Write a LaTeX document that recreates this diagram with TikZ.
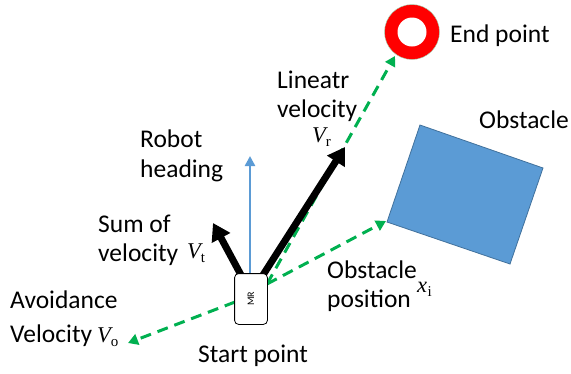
\documentclass[tikz,border=0pt]{standalone}
\usepackage{fontspec}
\setmainfont{Carlito}
\newfontfamily\serifv{Liberation Serif}
\usetikzlibrary{arrows.meta}
\definecolor{gdash}{HTML}{00B050}
\definecolor{bluea}{HTML}{5B9BD5}
\definecolor{blueb}{HTML}{41719C}
\newcommand{\subv}[1]{\raisebox{-4pt}{\serifv\upshape\fontsize{15}{15}\selectfont #1}}
\tikzset{
  lbl/.style={font=\fontsize{25.5}{28}\selectfont, inner sep=0pt, anchor=base west},
  var/.style={font=\serifv\fontsize{22.5}{24}\selectfont\itshape, inner sep=0pt, anchor=base west},
  greenarrow/.style={draw=gdash, line width=3pt, dash pattern=on 11pt off 7pt, -{Triangle[length=10pt,width=11pt]}},
  blackarrow/.style={draw=black, line width=7pt, -{Triangle[length=17pt,width=20pt]}},
  bluearrow/.style={draw=bluea, line width=2.4pt, -{Triangle[length=10pt,width=10pt]}},
  robot/.style={draw=black, fill=white, rounded corners=4pt, line width=0.8pt},
}
\begin{document}
\begin{tikzpicture}[x=1pt,y=-1pt]
\useasboundingbox (0,0) rectangle (571,373);
% obstacle
\draw[fill=bluea, draw=blueb, line width=0.8pt] (420,125) -- (543,168) -- (510,264) -- (387,222) -- cycle;
\coordinate (obsc) at (386,221);
% end point ring
\node[circle, minimum size=55pt, inner sep=0pt, fill=red, draw=gdash!40, line width=0.4pt] (endpt) at (412,32) {};
\fill[white] (endpt.center) circle (14.5);
\coordinate (endtip) at (395,56);
% robot
\node[robot, minimum width=32pt, minimum height=50pt, inner sep=0pt] (mr) at (251,299) {};
\coordinate (vttip) at (213,223);
\coordinate (vrtip) at (345,147);
\coordinate (headtip) at (250,156);
\coordinate (votip) at (128,343);
% green dashed
\draw[greenarrow] (267,284) -- (endtip);
\draw[greenarrow] (267,284) -- (obsc);
\draw[greenarrow] (235,302) -- (votip);
% blue heading
\draw[bluearrow] (250,274) -- (headtip);
% black arrows
\draw[blackarrow] (241,275) -- (vttip);
\draw[blackarrow] (263,275) -- (vrtip);
\draw[robot] (mr.south west) rectangle (mr.north east);
\node[rotate=90, font=\fontsize{10}{11}\selectfont, inner sep=0pt] (mrtxt) at (mr.center) {MR};
% labels
\node[lbl] (endlbl) at (450,42) {End point};
\node[lbl] (obslbl) at (479,128) {Obstacle};
\node[lbl] (linlbl) at (277,88) {Lineatr};
\node[lbl] (linvel) at (277,117) {velocity};
\node[var] (vr) at (312,142) {V\subv{r}};
\node[lbl] (robotlbl) at (140,147) {Robot};
\node[lbl] (headlbl) at (140,177) {heading};
\node[lbl] (sumlbl) at (98,232) {Sum of};
\node[lbl] (vellbl) at (98,261) {velocity};
\node[var] (vt) at (187,258) {V\subv{t}};
\node[lbl] (oplbl) at (327,278) {Obstacle};
\node[lbl] (poslbl) at (327,307) {position};
\node[var] (xi) at (417,292) {x\kern0.5pt\subv{i}};
\node[lbl] (avlbl) at (10,308) {Avoidance};
\node[lbl] (avvel) at (10,342) {Velocity};
\node[var] (vo) at (97,342) {V\subv{o}};
\node[lbl] (startlbl) at (198,362) {Start point};
\end{tikzpicture}
\end{document}
